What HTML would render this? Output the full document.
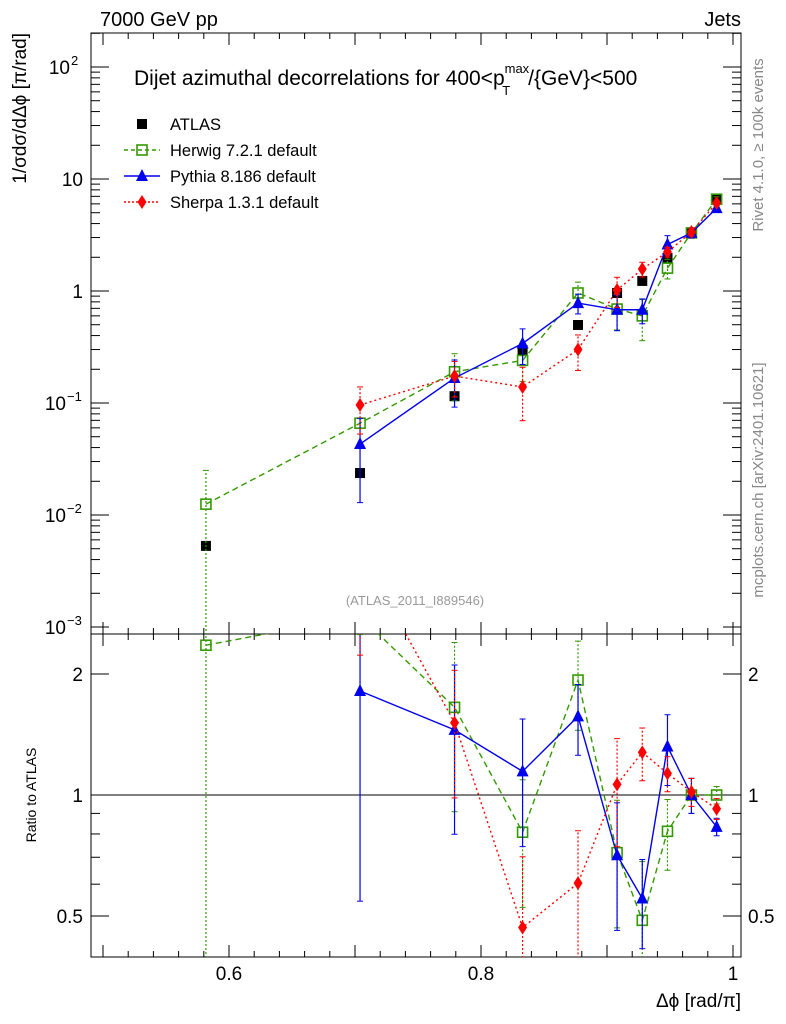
<!DOCTYPE html>
<html><head><meta charset="utf-8"><style>
html,body{margin:0;padding:0;background:#fff;overflow:hidden;width:786px;height:1024px;}
svg{display:block;font-family:"Liberation Sans",sans-serif;}
</style></head><body>
<svg id="c" width="786" height="1024" xmlns="http://www.w3.org/2000/svg"></svg>
<script>
const xs = [0.5817,0.704,0.779,0.833,0.877,0.908,0.928,0.948,0.967,0.987];
const atlas = [0.0053,0.0237,0.115,0.297,0.497,0.96,1.23,1.97,3.3,6.6];
const atlasErr = [0.1,0.1,0.2,0.1,0.05,0.05,0.05,0.05,0.05,0.05];
const herwig = [0.0125,0.066,0.19,0.24,0.96,0.69,0.6,1.6,3.3,6.6];
const herwigErr = [1.0,0.1,0.45,0.35,0.25,0.35,0.4,0.2,0.1,0.05];
const pythia = [null,0.043,0.167,0.34,0.78,0.68,0.68,2.6,3.3,5.5];
const pythiaErr = [null,0.7,0.45,0.35,0.2,0.35,0.25,0.2,0.1,0.05];
const sherpa = [null,0.096,0.174,0.139,0.30,1.02,1.57,2.23,3.36,6.1];
const sherpaErr = [null,0.45,0.35,0.5,0.35,0.3,0.15,0.1,0.08,0.06];
const xTicks = [0.6,0.8,1];
const xTickLabels = ["0.6","0.8","1"];

const NS="http://www.w3.org/2000/svg";
const svg=document.getElementById('c');
const L=91,R=741,T=33,MB=634,RB=957;
const X=v=>-527+1260*v;
const Y=v=>291-112*Math.log10(v);
const RY=v=>795-121*Math.log2(v);
const clamp=(v,a,b)=>Math.max(a,Math.min(b,v));
function el(tag,attrs,parent){const e=document.createElementNS(NS,tag);for(const k in attrs)e.setAttribute(k,attrs[k]);(parent||svg).appendChild(e);return e;}
function txt(s,attrs,parent){const e=el('text',attrs,parent);e.textContent=s;return e;}

const defs=el('defs',{});
const c1=el('clipPath',{id:'cm'},defs);el('rect',{x:L,y:T,width:R-L,height:MB-T},c1);
const c2=el('clipPath',{id:'cr'},defs);el('rect',{x:L,y:MB,width:R-L,height:RB-MB},c2);

const fm=el('rect',{x:L,y:T,width:R-L,height:MB-T,fill:'none',stroke:'#000','stroke-width':1});


const fr=el('rect',{x:L,y:MB,width:R-L,height:RB-MB,fill:'none',stroke:'#000','stroke-width':1});



for(let i=0;i<=30;i++){const v=0.48+i*0.02;const x=X(v);if(x<L||x>R)continue;
 const major=Math.abs((v*10)-Math.round(v*10))<1e-6;const len=major?12:6;
 [[MB,-1],[T,1],[RB,-1]].forEach(([y,d])=>el('line',{x1:x,x2:x,y1:y,y2:y+d*len,stroke:'#000'}));
 el('line',{x1:x,x2:x,y1:MB,y2:MB+len,stroke:'#000'});
}
xTicks.forEach((v,i)=>{const t=txt(xTickLabels[i],{x:X(v),y:980,'font-size':19,'text-anchor':'middle'});
 
 });
for(let d=-3;d<=2;d++){for(let m=1;m<10;m++){const v=m*Math.pow(10,d);const y=Y(v);if(y<T||y>MB)continue;
 const len=m==1?18:9;el('line',{x1:L,x2:L+len,y1:y,y2:y,stroke:'#000'});el('line',{x1:R,x2:R-len,y1:y,y2:y,stroke:'#000'});}}
const yl=[[100,'10','2'],[10,'10',''],[1,'1',''],[0.1,'10','−1'],[0.01,'10','−2'],[0.001,'10','−3']];
yl.forEach(([v,b,e])=>{const g=el('g',{});
 const y=Y(v)+7;
 if(e){txt(b,{x:e.length>1?66:70,y:y,'font-size':19,'text-anchor':'end'},g);txt(e,{x:e.length>1?67:71,y:y-9,'font-size':13},g);}
 else txt(b,{x:83,y:y,'font-size':19,'text-anchor':'end'},g);});
[0.5,0.6,0.7,0.8,0.9,1,2].forEach(v=>{const y=RY(v);const len=(v==0.5||v==1||v==2)?18:9;
 el('line',{x1:L,x2:L+len,y1:y,y2:y,stroke:'#000'});el('line',{x1:R,x2:R-len,y1:y,y2:y,stroke:'#000'});});
[[2,'2'],[1,'1'],[0.5,'0.5']].forEach(([v,s])=>{
 const a=txt(s,{x:83,y:RY(v)+7,'font-size':19,'text-anchor':'end'});
 const b=txt(s,{x:748,y:RY(v)+7,'font-size':19});});
el('line',{x1:L,x2:R,y1:RY(1),y2:RY(1),stroke:'#000'});

const series=[
 {name:'herwig',vals:herwig,err:herwigErr,color:'#339900',dash:'6,4',marker:'sq-open'},
 {name:'pythia',vals:pythia,err:pythiaErr,color:'#0000ee',dash:'',marker:'tri'},
 {name:'sherpa',vals:sherpa,err:sherpaErr,color:'#ff0000',dash:'2,3',marker:'dia'}];
function marker(kind,x,y,color,g){
 if(kind=='sq-open')el('rect',{x:x-5,y:y-5,width:10,height:10,fill:'none',stroke:color,'stroke-width':1.6},g);
 else if(kind=='tri')el('polygon',{points:`${x},${y-7} ${x-6},${y+5} ${x+6},${y+5}`,fill:color},g);
 else if(kind=='dia')el('polygon',{points:`${x},${y-7} ${x-4.5},${y} ${x},${y+7} ${x+4.5},${y}`,fill:color},g);
 else if(kind=='sq')el('rect',{x:x-5,y:y-5,width:10,height:10,fill:color},g);
}
function drawSeries(s,ratio){
 const g=el('g',{'clip-path':ratio?'url(#cr)':'url(#cm)'});
 
 
 const yf=ratio?RY:Y;const top=ratio?MB:T,bot=ratio?RB:MB;let pts=[];
 s.vals.forEach((v,i)=>{if(v==null)return;const val=ratio?v/atlas[i]:v;pts.push([X(xs[i]),yf(val),val,i]);});
 el('polyline',{points:pts.map(p=>p[0]+','+p[1]).join(' '),fill:'none',stroke:s.color,'stroke-width':1.4,'stroke-dasharray':s.dash},g);
 pts.forEach(([x,y,val,i])=>{const e=s.err[i];const lo=Math.max(val*(1-e),1e-6),hi=val*(1+e);
  const ylo=clamp(yf(lo),top-5,bot+5),yhi=clamp(yf(hi),top-5,bot+5);
  el('line',{x1:x,x2:x,y1:ylo,y2:yhi,stroke:s.color,'stroke-width':1.2,'stroke-dasharray':s.dash?'2,2':''},g);
  el('line',{x1:x-3,x2:x+3,y1:yhi,y2:yhi,stroke:s.color},g);
  el('line',{x1:x-3,x2:x+3,y1:ylo,y2:ylo,stroke:s.color},g);
  marker(s.marker,x,y,s.color,g);});
}
const ga=el('g',{'clip-path':'url(#cm)'});


atlas.forEach((v,i)=>{const x=X(xs[i]);const e=atlasErr[i];
 el('line',{x1:x,x2:x,y1:Y(v*(1-e)),y2:Y(v*(1+e)),stroke:'#000'},ga);marker('sq',x,Y(v),'#000',ga);});
series.forEach(s=>drawSeries(s,false));
series.forEach(s=>drawSeries(s,true));

const t1=txt('7000 GeV pp',{x:100,y:26,'font-size':20});
const t2=txt('Jets',{x:741,y:26,'font-size':20,'text-anchor':'end'});
const tt=el('text',{x:134,y:85,'font-size':21});
tt.innerHTML='Dijet azimuthal decorrelations for 400&lt;p<tspan font-size="13" dy="-12">max</tspan><tspan font-size="13" dx="-27" dy="22">T</tspan><tspan dy="-10" dx="18">/{GeV}&lt;500</tspan>';
const leg=[['ATLAS','#000','','sq'],['Herwig 7.2.1 default','#339900','4,3','sq-open'],['Pythia 8.186 default','#0000ee','','tri'],['Sherpa 1.3.1 default','#ff0000','2,2','dia']];
leg.forEach(([n,c,d,m],i)=>{const g=el('g',{});
 const y=124+i*26;if(i>0)el('line',{x1:124,x2:160,y1:y,y2:y,stroke:c,'stroke-width':1.4,'stroke-dasharray':d},g);
 marker(m,142,y,c,g);txt(n,{x:170,y:y+6,'font-size':16.5},g);});
const wm=txt('(ATLAS_2011_I889546)',{x:415,y:605,'font-size':13,fill:'#999','text-anchor':'middle'});
const r1=txt('Rivet 4.1.0, ≥ 100k events',{x:0,y:0,'font-size':15,fill:'#888','text-anchor':'middle',transform:'translate(763,145) rotate(-90)'});
const r2=txt('mcplots.cern.ch [arXiv:2401.10621]',{x:0,y:0,'font-size':15,fill:'#888','text-anchor':'middle',transform:'translate(763,480) rotate(-90)'});
const yt=txt('1/σdσ/dΔϕ [π/rad]',{x:0,y:0,'font-size':19,'text-anchor':'end',transform:'translate(26,33) rotate(-90)'});
const rt=txt('Ratio to ATLAS',{x:0,y:0,'font-size':14,'text-anchor':'middle',transform:'translate(36,795) rotate(-90)'});
const xt=txt('Δϕ [rad/π]',{x:741,y:1007,'font-size':19,'text-anchor':'end'});
</script>
</body></html>
